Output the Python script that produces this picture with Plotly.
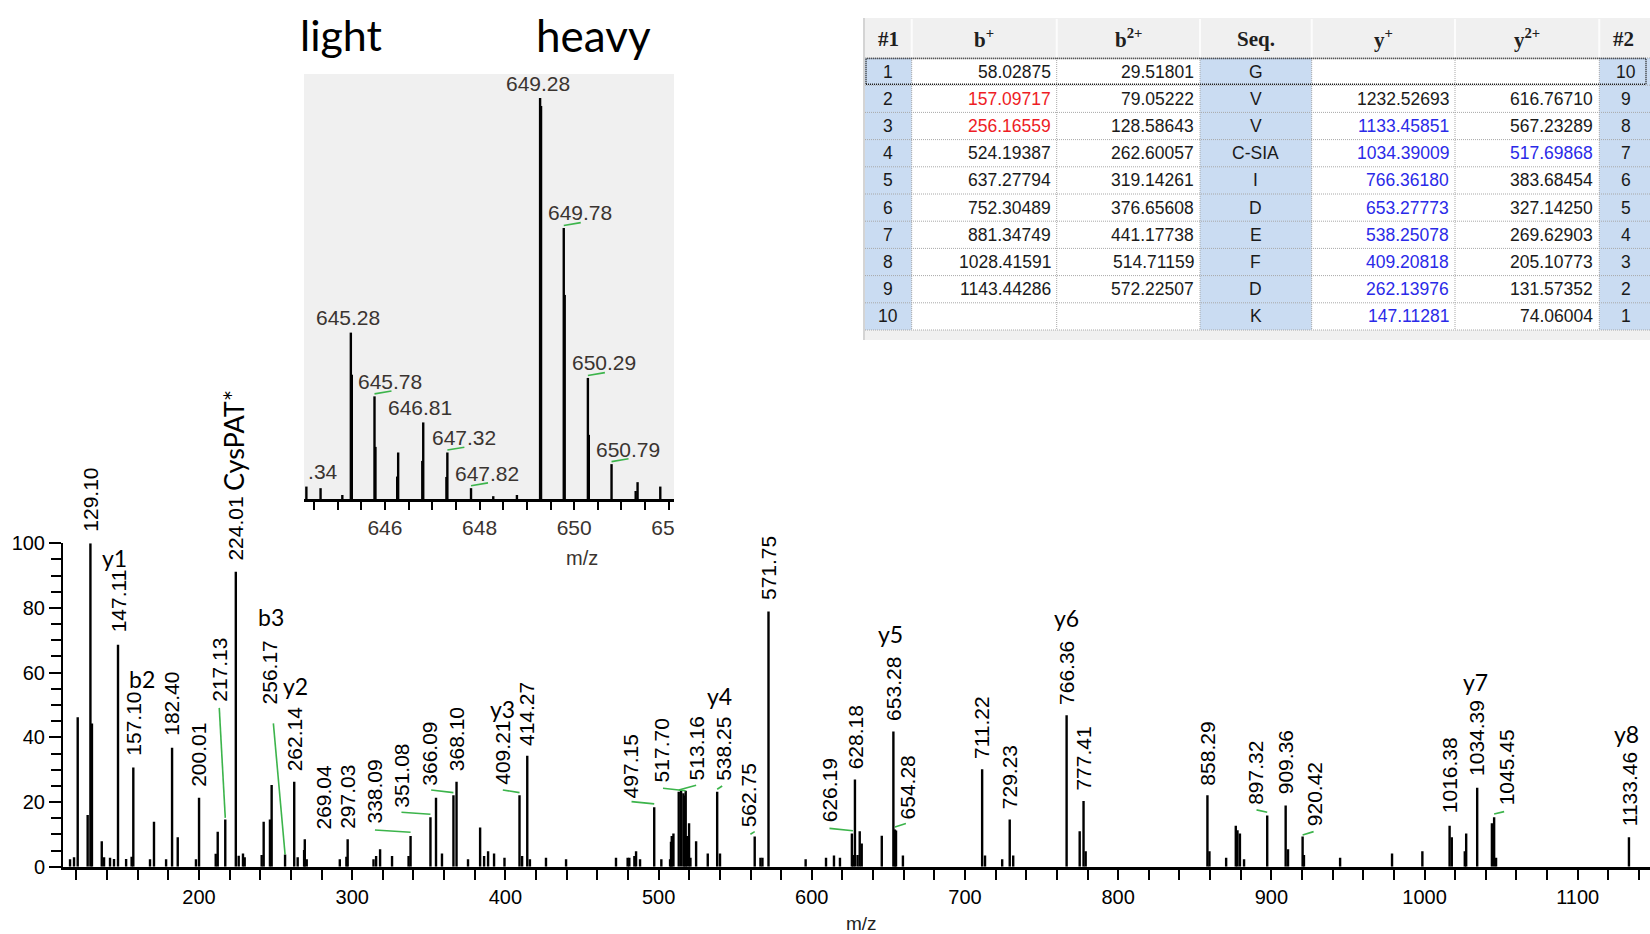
import plotly.graph_objects as go

W, H = 1650, 934

# ---------------- DATA ----------------
# main MS/MS spectrum: labelled peaks (m/z, relative intensity %)
labeled_mz = [129.10, 147.11, 157.10, 182.40, 200.01, 217.13, 224.01, 256.17, 262.14, 269.04,
              297.03, 338.09, 351.08, 366.09, 368.10, 409.21, 414.27, 497.15, 513.16, 517.70,
              538.25, 562.75, 571.75, 626.19, 628.18, 653.28, 654.28, 711.22, 729.23, 766.36,
              777.41, 858.29, 897.32, 909.36, 920.42, 1016.38, 1034.39, 1045.45, 1133.46]
labeled_int = [100, 68.6, 30.7, 36.8, 21.3, 14.6, 91.2, 3.8, 26.3, 8.5,
               8.5, 9.5, 15.3, 22.1, 26.3, 22.1, 34.3, 18.4, 23.2, 23.5,
               23.2, 9.3, 78.9, 10.3, 27.0, 41.8, 11.5, 30.1, 14.6, 46.8,
               20.3, 22.1, 15.8, 18.9, 9.3, 12.7, 24.4, 15.3, 9.1]

# unlabelled peaks
other_mz = [115.8, 118.4, 120.8, 127.3, 130.1, 136.5, 138.0, 141.9, 144.5, 152.4, 156.0, 168.0,
            170.6, 178.5, 186.1, 198.0, 210.9, 212.2, 225.9, 228.7, 229.8, 240.9, 242.2, 246.3,
            247.4, 264.4, 268.6, 270.3, 291.9, 296.2, 313.9, 315.6, 318.2, 326.0, 336.8, 354.7,
            358.6, 375.6, 383.5, 386.1, 388.7, 392.6, 399.4, 410.9, 416.0, 426.5, 439.6, 472.2,
            479.8, 480.9, 484.2, 485.3, 487.9, 501.8, 507.5, 508.1, 508.6, 509.7, 514.7, 516.2,
            516.9, 518.6, 519.9, 520.8, 524.5, 532.1, 540.1, 566.5, 567.8, 596.0, 609.3, 614.5,
            618.4, 627.1, 629.9, 631.3, 632.6, 645.7, 655.0, 659.5, 713.1, 724.3, 731.5, 774.9,
            778.8, 859.6, 870.5, 876.8, 877.9, 879.5, 882.2, 910.9, 921.3, 944.9, 978.8, 998.6,
            1017.8, 1026.3, 1027.2, 1044.0, 1046.7]
other_int = [2.3, 2.9, 46.2, 16.0, 44.3, 7.9, 2.9, 2.8, 2.4, 2.4, 3.1, 2.3,
             13.9, 2.3, 9.1, 2.3, 4.0, 10.8, 3.4, 4.1, 2.9, 3.6, 13.9, 14.6,
             25.3, 2.9, 5.2, 2.3, 2.3, 3.1, 2.3, 3.3, 5.4, 3.3, 3.3, 21.3,
             4.1, 2.3, 12.1, 3.3, 4.8, 4.1, 2.8, 3.3, 2.3, 2.8, 2.3, 2.8,
             2.8, 2.8, 3.3, 4.8, 2.3, 2.3, 2.3, 7.7, 9.5, 10.3, 23.7, 22.7,
             22.0, 9.5, 13.4, 2.8, 7.9, 4.1, 4.1, 2.8, 2.8, 2.3, 2.8, 3.5,
             2.8, 3.6, 3.6, 11.0, 7.2, 9.6, 11.2, 3.5, 3.5, 2.3, 3.5, 11.0,
             4.8, 4.8, 2.8, 12.7, 11.3, 10.3, 2.3, 5.4, 3.6, 2.8, 4.1, 4.8,
             9.1, 4.8, 10.3, 13.4, 2.8]

# fragment ion annotations
frag_names = ["y1", "b2", "b3", "y2", "y3", "y4", "y5", "y6", "y7", "y8"]

# inset MS1 isotope cluster (light / heavy)
inset_lab_mz = [644.34, 645.28, 645.78, 646.81, 647.32, 647.82, 649.28, 649.78, 650.29, 650.79]
inset_lab_int = [3.1, 41.5, 25.6, 19.1, 11.6, 2.7, 100, 67.6, 30.2, 8.7]
inset_other_mz = [644.64, 645.10, 645.30, 645.80, 646.26, 646.28, 646.79, 647.30, 648.29,
                  648.79, 649.30, 649.80, 650.31, 651.30, 651.34, 651.82]
inset_other_int = [2.7, 1.0, 31.0, 13.0, 5.6, 11.6, 9.5, 5.5, 0.7,
                   1.0, 98, 50.9, 16.0, 2.0, 4.2, 3.1]

# fragment table
tbl_headers = ["#1", "b<sup>+</sup>", "b<sup>2+</sup>", "Seq.", "y<sup>+</sup>", "y<sup>2+</sup>", "#2"]
tbl_idx1 = [1, 2, 3, 4, 5, 6, 7, 8, 9, 10]
tbl_b1 = ["58.02875", "157.09717", "256.16559", "524.19387", "637.27794", "752.30489",
          "881.34749", "1028.41591", "1143.44286", ""]
tbl_b2 = ["29.51801", "79.05222", "128.58643", "262.60057", "319.14261", "376.65608",
          "441.17738", "514.71159", "572.22507", ""]
tbl_seq = ["G", "V", "V", "C-SIA", "I", "D", "E", "F", "D", "K"]
tbl_y1 = ["", "1232.52693", "1133.45851", "1034.39009", "766.36180", "653.27773",
          "538.25078", "409.20818", "262.13976", "147.11281"]
tbl_y2 = ["", "616.76710", "567.23289", "517.69868", "383.68454", "327.14250",
          "269.62903", "205.10773", "131.57352", "74.06004"]
tbl_idx2 = [10, 9, 8, 7, 6, 5, 4, 3, 2, 1]
b1_matched = [0, 1, 1, 0, 0, 0, 0, 0, 0, 0]
y1_matched = [0, 0, 1, 1, 1, 1, 1, 1, 1, 1]
y2_matched = [0, 0, 0, 1, 0, 0, 0, 0, 0, 0]

# ---------------- LAYOUT / STYLE ----------------
SANS = "Liberation Sans, Arial, sans-serif"
CAL = "Lato, Carlito, Calibri, sans-serif"
SERIF = "Liberation Serif, Times New Roman, serif"
GREEN = "#3cb44b"
BLUE_CELL = "#cadcf2"
INSET_TXT = "#3a3430"


def pxx(x):
    return x / W


def pxy(y):
    return 1 - y / H


# label pixel offsets relative to peak top (dx, dy up)
lab_dx = [0, 0, 0, 0, 0, -6, 0, -16, 0, 19,
          0, -36, -29, -24, 0, -17, 0, -24, 18, -24,
          6, -6, 0, -23, 0, 0, 13, 0, 0, 0,
          0, 0, -12, 0, 12, 0, 0, 12, 0]
lab_dy = [11, 11, 11, 11, 10, 117, 10, 149, 9, 9,
          9, 11, 9, 9, 9, 9, 9, 8, 10, 7,
          10, 8, 10, 10, 9, 10, 9, 9, 9, 9,
          9, 9, 10, 10, 9, 11, 11, 11, 10]
# green leader lines: peak m/z -> (x0, y0, x1, y1) pixel offsets from peak top
leaders = {
    217.13: (0, 1.6, -6, 111.6), 256.17: (0, 0, -11.7, 131), 338.09: (0, 3.7, -35.6, 6),
    351.08: (0, 3, -29, 5), 366.09: (0, 2.6, -22.3, 5.3), 409.21: (0, 2.6, -16.7, 5.3),
    497.15: (0, 3.3, -22.7, 5.6), 513.16: (0, 1.7, 17.4, 6.4), 517.70: (0, 0, -22.7, 2.4),
    538.25: (0, 2.4, 5, 5.7), 562.75: (0, 5, -4.3, 2.4), 626.19: (1, 2.6, -22.4, 5),
    654.28: (0, 2.6, 11, 6), 897.32: (0, 3.4, -10.7, 5.7), 920.42: (0, 1.7, 11, 5),
    1045.45: (0, 3.3, 10, 5.6),
}
frag_pos = [(114, 558), (142, 679), (271, 617), (295, 686), (502, 709), (719, 696),
            (890, 634), (1066, 618), (1475, 682), (1626, 734)]
inset_dx = [-1, -3, 15.6, -3, 16.6, 16, -2, 16, 16, 16]
inset_leader = {645.78, 647.32, 647.82, 649.78, 650.29, 650.79}
INSET_LEFT, INSET_RIGHT, INSET_TOP, INSET_BOT = 304, 674, 74, 499


def sticks(mzs, ints):
    xs, ys = [], []
    for m, h in zip(mzs, ints):
        xs += [m, m, None]
        ys += [0, h, None]
    return xs, ys


fig = go.Figure()

mx, my = sticks(labeled_mz + other_mz, labeled_int + other_int)
fig.add_trace(go.Scatter(x=mx, y=my, mode="lines", line=dict(color="black", width=2.4),
                         hoverinfo="skip", xaxis="x", yaxis="y"))
ix, iy = sticks(inset_lab_mz + inset_other_mz, inset_lab_int + inset_other_int)
fig.add_trace(go.Scatter(x=ix, y=iy, mode="lines", line=dict(color="black", width=2.4),
                         hoverinfo="skip", xaxis="x2", yaxis="y2"))

annotations = []
shapes = []

# main peak labels
for m, h, dx, dy in zip(labeled_mz, labeled_int, lab_dx, lab_dy):
    annotations.append(dict(x=m, y=h, xref="x", yref="y", text=f"{m:.2f}", showarrow=False,
                            textangle=-90, xanchor="center", yanchor="bottom",
                            xshift=dx, yshift=dy, borderpad=0,
                            font=dict(family=SANS, size=21, color="black")))
lab_int_map = dict(zip(labeled_mz, labeled_int))
for m, (x0, y0, x1, y1) in leaders.items():
    shapes.append(dict(type="line", xref="x", yref="y", xsizemode="pixel", ysizemode="pixel",
                       xanchor=m, yanchor=lab_int_map[m], x0=x0, y0=y0, x1=x1, y1=y1,
                       line=dict(color=GREEN, width=1.6)))

for name, (fx, fy) in zip(frag_names, frag_pos):
    annotations.append(dict(x=pxx(fx), y=pxy(fy), xref="paper", yref="paper", text=name,
                            showarrow=False, xanchor="center", yanchor="middle",
                            font=dict(family=CAL, size=23, color="black")))

annotations.append(dict(x=pxx(233), y=pxy(441), xref="paper", yref="paper", text="CysPAT*",
                        showarrow=False, textangle=-90, xanchor="center", yanchor="middle",
                        font=dict(family=CAL, size=27, color="black")))
annotations.append(dict(x=pxx(341), y=pxy(35), xref="paper", yref="paper", text="light",
                        showarrow=False, xanchor="center", yanchor="middle",
                        font=dict(family=CAL, size=43, color="black")))
annotations.append(dict(x=pxx(593), y=pxy(35), xref="paper", yref="paper", text="heavy",
                        showarrow=False, xanchor="center", yanchor="middle",
                        font=dict(family=CAL, size=44, color="black")))
# axis titles
annotations.append(dict(x=pxx(861), y=pxy(923), xref="paper", yref="paper", text="m/z",
                        showarrow=False, xanchor="center", yanchor="middle",
                        font=dict(family=SANS, size=19, color="#222")))
annotations.append(dict(x=pxx(582), y=pxy(558), xref="paper", yref="paper", text="m/z",
                        showarrow=False, xanchor="center", yanchor="middle",
                        font=dict(family=SANS, size=20, color=INSET_TXT)))

# inset background
shapes.append(dict(type="rect", xref="paper", yref="paper", x0=pxx(INSET_LEFT), x1=pxx(INSET_RIGHT),
                   y0=pxy(INSET_BOT), y1=pxy(INSET_TOP), fillcolor="#f0f0f0", line=dict(width=0),
                   layer="below"))
for m, h, dx in zip(inset_lab_mz, inset_lab_int, inset_dx):
    txt = f"{m:.2f}"
    if m < 644.5:  # label cut by the inset's left border: hide the part outside
        txt = f"<span style='color:rgba(0,0,0,0)'>{txt[:3]}</span>{txt[3:]}"
    annotations.append(dict(x=m, y=h, xref="x2", yref="y2", text=txt, showarrow=False,
                            xanchor="center", yanchor="middle", xshift=dx, yshift=15,
                            font=dict(family=SANS, size=21, color=INSET_TXT)))
    if m in inset_leader:
        shapes.append(dict(type="line", xref="x2", yref="y2", xsizemode="pixel",
                           ysizemode="pixel", xanchor=m, yanchor=h, x0=0, y0=2.5, x1=17, y1=5.3,
                           line=dict(color=GREEN, width=1.6)))

# ---------------- TABLE ----------------
col_edges = [865, 911.7, 1056.7, 1200, 1311.7, 1455, 1599.3, 1656]
head_top, head_bot, row_top, row_h = 19, 57, 58, 27.2
nrows = len(tbl_idx1)
tbl_bottom = row_top + row_h * nrows


def prect(x0, x1, y0, y1, fill, layer="above", line=None):
    return dict(type="rect", xref="paper", yref="paper", x0=pxx(x0), x1=pxx(x1),
                y0=pxy(y1), y1=pxy(y0), fillcolor=fill,
                line=line or dict(width=0), layer=layer)


def pline(x0, y0, x1, y1, color, width=1, dash="solid"):
    return dict(type="line", xref="paper", yref="paper", x0=pxx(x0), x1=pxx(x1),
                y0=pxy(y0), y1=pxy(y1), line=dict(color=color, width=width, dash=dash))


shapes.append(prect(863, 1650, head_top - 1, tbl_bottom + 10, "#f0f0f0"))
shapes.append(prect(863, 865, head_top - 1, tbl_bottom + 10, "#d4d4d4"))
shapes.append(prect(865, 1650, row_top, tbl_bottom, "white"))
for ci in (0, 3, 6):
    shapes.append(prect(col_edges[ci], min(col_edges[ci + 1], 1650), row_top, tbl_bottom, BLUE_CELL))
for ce in col_edges[1:-1]:
    shapes.append(pline(ce, head_top, ce, head_bot, "#fcfcfc", 2))
DOT = "1px,1px"
for r in range(nrows + 1):
    yy = row_top + r * row_h
    shapes.append(pline(865, yy, 1650, yy, "#a8a8a8", 1, DOT))
for ce in col_edges[1:-1]:
    shapes.append(pline(ce, row_top, ce, tbl_bottom, "#a8a8a8", 1, DOT))
shapes.append(dict(type="rect", xref="paper", yref="paper", x0=pxx(866), x1=pxx(1646),
                   y0=pxy(row_top + row_h - 1), y1=pxy(row_top + 0.5), fillcolor="rgba(0,0,0,0)",
                   line=dict(color="#202020", width=1.5, dash=DOT), layer="above"))

for ci, htxt in enumerate(tbl_headers):
    cx = (col_edges[ci] + min(col_edges[ci + 1], 1650)) / 2
    if ci == 6:
        cx = 1623
    annotations.append(dict(x=pxx(cx), y=pxy((head_top + head_bot) / 2 + 1), xref="paper",
                            yref="paper", text=f"<b>{htxt}</b>", showarrow=False,
                            xanchor="center", yanchor="middle",
                            font=dict(family=SERIF, size=21, color="#202020")))

RED, BLUE, BLK = "#ee1c25", "#2a2ae8", "#1a1a1a"
columns = [
    (tbl_idx1, [BLK] * nrows, "center"),
    (tbl_b1, [RED if f else BLK for f in b1_matched], "right"),
    (tbl_b2, [BLK] * nrows, "right"),
    (tbl_seq, [BLK] * nrows, "center"),
    (tbl_y1, [BLUE if f else BLK for f in y1_matched], "right"),
    (tbl_y2, [BLUE if f else BLK for f in y2_matched], "right"),
    (tbl_idx2, [BLK] * nrows, "center"),
]
for ci, (vals, cols, al) in enumerate(columns):
    x0, x1 = col_edges[ci], min(col_edges[ci + 1], 1650)
    for r, (v, c) in enumerate(zip(vals, cols)):
        if v == "":
            continue
        yc = row_top + (r + 0.5) * row_h
        if al == "right":
            xa, anchor = x1 - 4, "right"
        else:
            xa, anchor = (x0 + x1) / 2, "center"
            if ci == 6:
                xa = 1626
        annotations.append(dict(x=pxx(xa), y=pxy(yc), xref="paper", yref="paper", text=str(v),
                                showarrow=False, xanchor=anchor, yanchor="middle",
                                font=dict(family=SANS, size=17.5, color=c)))

# clip the inset's partial right-edge tick label
shapes.append(prect(INSET_RIGHT + 0.5, 705, 505, 548, "white"))

fig.update_layout(
    template="none",
    width=W, height=H, autosize=False,
    margin=dict(l=0, r=0, t=0, b=0, pad=0, autoexpand=False),
    paper_bgcolor="white", plot_bgcolor="rgba(0,0,0,0)",
    showlegend=False,
    xaxis=dict(domain=[pxx(63), 1], range=[111.2, 1147.2], showgrid=False, zeroline=False,
               automargin=False,
               showline=True, linecolor="black", linewidth=3,
               ticks="outside", ticklen=10, tickwidth=2, tickcolor="black",
               tick0=0, dtick=100,
               minor=dict(dtick=20, ticks="outside", ticklen=10, tickwidth=2, tickcolor="black",
                          showgrid=False),
               tickfont=dict(family=SANS, size=20, color="black")),
    yaxis=dict(domain=[pxy(866.7), pxy(543.3)], range=[0, 100], showgrid=False, zeroline=False,
               automargin=False,
               showline=True, linecolor="black", linewidth=2,
               ticks="outside", ticklen=12, tickwidth=2, tickcolor="black",
               tick0=0, dtick=20,
               minor=dict(dtick=5, ticks="outside", ticklen=10, tickwidth=2, tickcolor="black",
                          showgrid=False),
               tickfont=dict(family=SANS, size=20, color="black")),
    xaxis2=dict(domain=[pxx(INSET_LEFT), pxx(INSET_RIGHT)], range=[644.29, 652.11], anchor="y2",
                automargin=False,
                showgrid=False, zeroline=False, showline=True, linecolor="black", linewidth=2.5,
                ticks="outside", ticklen=8, tickwidth=2, tickcolor="black", tick0=0, dtick=2,
                minor=dict(dtick=0.5, ticks="outside", ticklen=8, tickwidth=2, tickcolor="black",
                           showgrid=False),
                tickfont=dict(family=SANS, size=21, color=INSET_TXT)),
    yaxis2=dict(domain=[pxy(INSET_BOT), pxy(INSET_TOP)], range=[0, 106], anchor="x2",
                visible=False, automargin=False),
    annotations=annotations,
    shapes=shapes,
)

fig.write_html("out.html")
